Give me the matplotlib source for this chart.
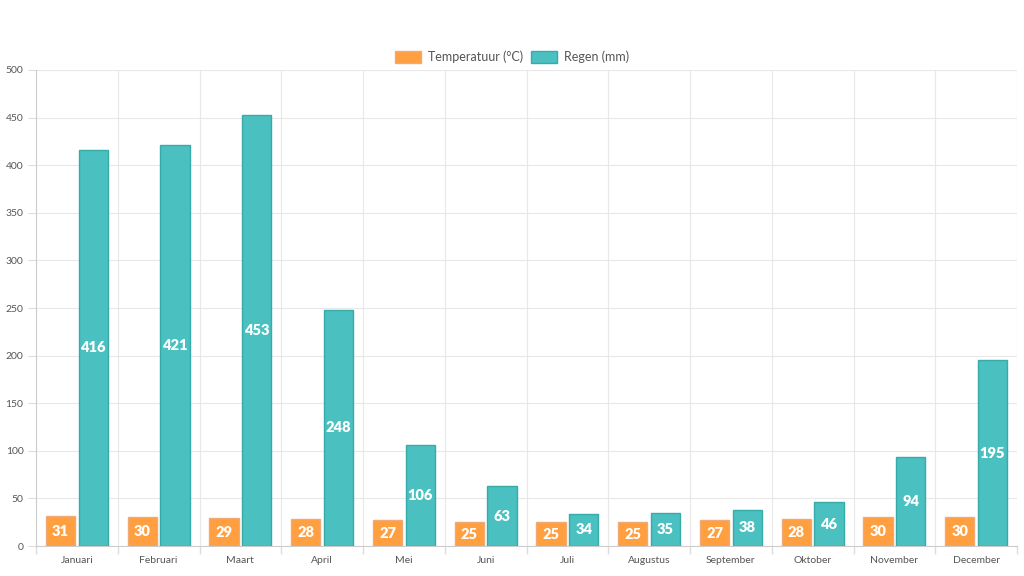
import matplotlib
matplotlib.use("Agg")
import matplotlib.pyplot as plt
from matplotlib.patches import Patch
import numpy as np

months = ["Januari", "Februari", "Maart", "April", "Mei", "Juni", "Juli",
          "Augustus", "September", "Oktober", "November", "December"]
temperature = [31, 30, 29, 28, 27, 25, 25, 25, 27, 28, 30, 30]
rain = [416, 421, 453, 248, 106, 63, 34, 35, 38, 46, 94, 195]
y_ticks = list(range(0, 501, 50))

plt.rcParams['font.family'] = ['Lato', 'DejaVu Sans']

orange = (1.0, 159/255, 64/255)
teal = (75/255, 192/255, 192/255)
orange_edge = (240/255, 170/255, 120/255)
teal_edge = (55/255, 170/255, 170/255)

fig = plt.figure(figsize=(10.24, 5.76), dpi=100)
ax = fig.add_axes([36/1024, 30/576, 981/1024, 476/576])

x = np.arange(len(months))
cat = 0.8
bw = cat / 2 * 0.9
off = cat / 4
b1 = ax.bar(x - off, temperature, width=bw, color=orange, edgecolor=orange_edge, linewidth=1, zorder=3)
b2 = ax.bar(x + off, rain, width=bw, color=teal, edgecolor=teal_edge, linewidth=1, zorder=3)

for bars, vals in ((b1, temperature), (b2, rain)):
    for r, v in zip(bars, vals):
        ax.text(r.get_x() + r.get_width() / 2, v / 2, str(v), ha='center', va='center',
                color='white', fontsize=10.5, fontweight='heavy', zorder=4)

ax.set_xlim(-0.5, len(months) - 0.5)
ax.set_ylim(0, 500)
ax.set_yticks(y_ticks)
ax.set_yticklabels([str(t) for t in y_ticks])
ax.set_xticks(x)
ax.set_xticklabels(months)
ax.set_xticks(np.arange(-0.5, len(months)), minor=True)

ax.tick_params(axis='x', which='major', length=0, labelsize=7.5, labelcolor='#555555', pad=7)
ax.tick_params(axis='x', which='minor', length=6, color='#dddddd', width=1)
ax.tick_params(axis='y', length=6, color='#dddddd', labelsize=7.5, labelcolor='#555555', pad=3)

ax.grid(True, axis='y', color='#e8e8e8', linewidth=0.8, zorder=0)
ax.grid(True, axis='x', which='minor', color='#e8e8e8', linewidth=0.8, zorder=0)
ax.grid(False, axis='x', which='major')

for s in ('top', 'right'):
    ax.spines[s].set_visible(False)
ax.spines['left'].set_color('#cccccc')
ax.spines['bottom'].set_color('#cccccc')

handles = [Patch(facecolor=orange, edgecolor=orange_edge, label='Temperatuur (°C)'),
           Patch(facecolor=teal, edgecolor=teal_edge, label='Regen (mm)')]
fig.legend(handles=handles, loc='center', bbox_to_anchor=(0.5, 1 - 57/576), ncol=2,
           frameon=False, fontsize=9, labelcolor='#555555', handlelength=2.1,
           handleheight=1.1, handletextpad=0.55, columnspacing=0.6)

fig.savefig('out.png', dpi=100, facecolor='white')
